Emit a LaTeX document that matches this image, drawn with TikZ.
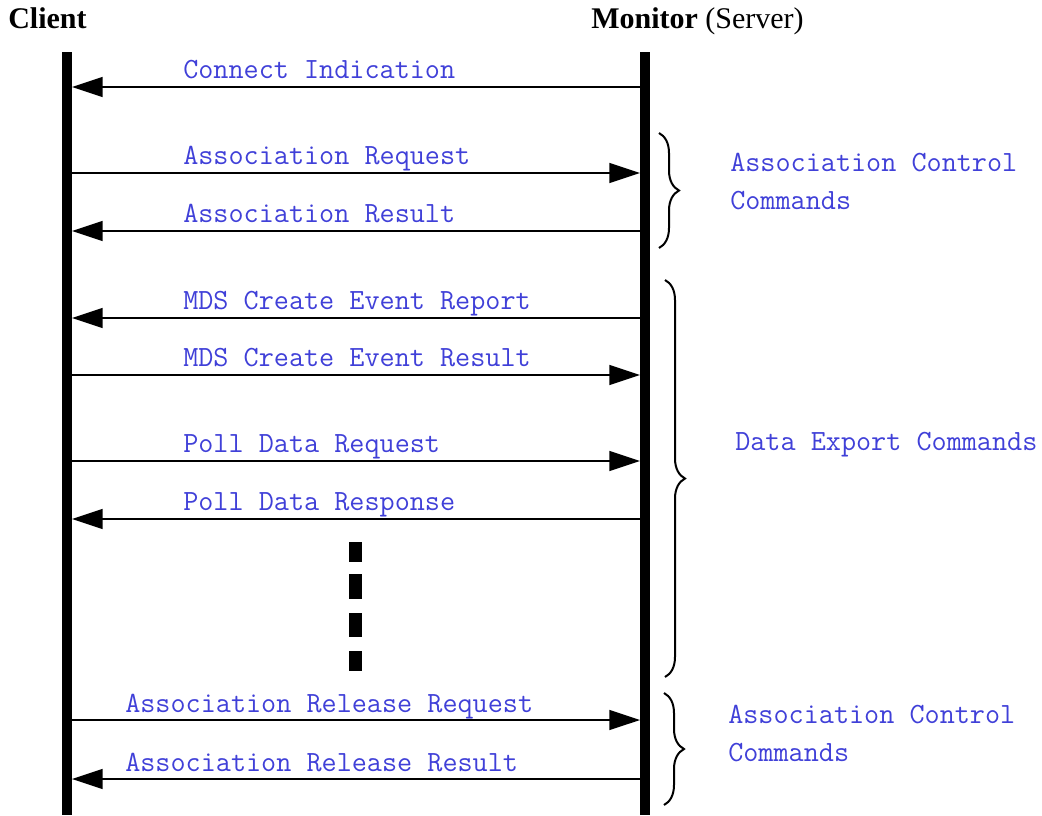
\documentclass[tikz,border=0pt]{standalone}
\usepackage{fontspec}
\setmainfont{Liberation Serif}
\usetikzlibrary{arrows.meta,decorations.pathreplacing}
\definecolor{msgblue}{RGB}{64,64,216}
\tikzset{
  lifeline/.style={line width=7.5pt},
  msg/.style={line width=1.1pt, -{Triangle[length=23pt,width=15pt]}},
  msglabel/.style={anchor=base west, inner sep=0pt, text=msgblue,
    font=\ttfamily\fontsize{22}{28.5}\selectfont},
  grouplabel/.style={anchor=north west, inner sep=0pt, text=msgblue, align=left,
    font=\ttfamily\fontsize{22}{28.5}\selectfont},
  header/.style={anchor=base west, inner sep=0pt, font=\fontsize{22.5}{27}\selectfont},
  groupbrace/.style={line width=1.5pt, decorate, decoration={brace, amplitude=15pt}},
  dotmark/.style={fill=black, draw=none}
}
\begin{document}
\begin{tikzpicture}[x=0.75pt, y=-0.75pt]
\useasboundingbox (0,0) rectangle (1042,815);

% participants
\node[header] (client) at (8,28) {\bfseries Client};
\node[header] (monitor) at (591,28) {\textbf{Monitor} (Server)};

% lifelines
\coordinate (ctop) at (67,52);
\coordinate (cbot) at (67,815);
\coordinate (stop) at (645,52);
\coordinate (sbot) at (645,815);
\draw[lifeline] (ctop) -- (cbot);
\draw[lifeline] (stop) -- (sbot);

% message end points on both lifelines
\foreach \n/\y in {1/87,2/173,3/231,4/318,5/375,6/461,7/519,8/720,9/779}{
  \coordinate (c\n) at (72,\y);
  \coordinate (s\n) at (640,\y);
}

% messages
\draw[msg] (s1) -- (c1);
\draw[msg] (c2) -- (s2);
\draw[msg] (s3) -- (c3);
\draw[msg] (s4) -- (c4);
\draw[msg] (c5) -- (s5);
\draw[msg] (c6) -- (s6);
\draw[msg] (s7) -- (c7);
\draw[msg] (c8) -- (s8);
\draw[msg] (s9) -- (c9);

% message labels
\node[msglabel] (l1) at (183,78) {Connect Indication};
\node[msglabel] (l2) at (183,164) {Association Request};
\node[msglabel] (l3) at (183,222) {Association Result};
\node[msglabel] (l4) at (183,309) {MDS Create Event Report};
\node[msglabel] (l5) at (183,366) {MDS Create Event Result};
\node[msglabel] (l6) at (183,452) {Poll Data Request};
\node[msglabel] (l7) at (183,510) {Poll Data Response};
\node[msglabel] (l8) at (125,712) {Association Release Request};
\node[msglabel] (l9) at (125,771) {Association Release Result};

% continuation marks
\fill[dotmark] (349,542) rectangle (362,562);
\fill[dotmark] (349,574) rectangle (362,599);
\fill[dotmark] (349,613) rectangle (362,637);
\fill[dotmark] (349,651) rectangle (362,671);

% command groups
\coordinate (b1t) at (659,133);
\coordinate (b1b) at (659,248);
\coordinate (b2t) at (665,280);
\coordinate (b2b) at (665,677);
\coordinate (b3t) at (664,693);
\coordinate (b3b) at (664,805);
\draw[groupbrace] (b1t) -- (b1b);
\draw[groupbrace] (b2t) -- (b2b);
\draw[groupbrace] (b3t) -- (b3b);

\node[grouplabel] (g1) at (730,153) {Association Control\\Commands};
\node[grouplabel] (g2) at (735,432) {Data Export Commands};
\node[grouplabel] (g3) at (728,705) {Association Control\\Commands};
\end{tikzpicture}
\end{document}
